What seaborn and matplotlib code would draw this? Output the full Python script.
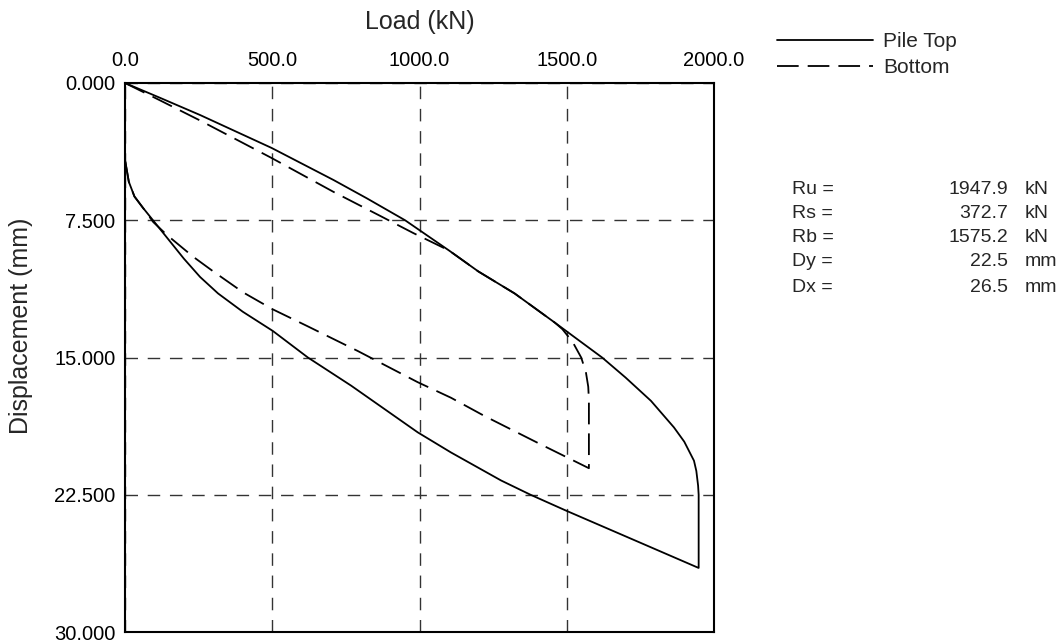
import matplotlib
matplotlib.use('Agg')
import matplotlib.pyplot as plt
import pandas as pd
import seaborn as sns

# pile top: loading, hold at Ru, then unloading
top_load = [0, 119, 255, 498, 708, 821, 951, 1100, 1200, 1323, 1460, 1540, 1620,
            1700, 1786, 1864, 1899, 1932, 1940, 1946, 1947.9, 1947.9, 1764, 1498, 1377, 1277,
            1107, 994, 768, 621, 502, 400, 316, 255, 200, 150, 100, 60, 32, 13, 0]
top_disp = [0, 0.81, 1.75, 3.55, 5.3, 6.3, 7.5, 9.15, 10.3, 11.5, 13.1, 14.05, 15.0,
            16.1, 17.37, 18.82, 19.6, 20.64, 21.2, 22.0, 22.5, 26.5, 25.22, 23.37, 22.5, 21.72,
            20.19, 19.09, 16.54, 15.0, 13.55, 12.5, 11.5, 10.6, 9.6, 8.6, 7.6, 6.8, 6.2, 5.4, 4.2]

# pile bottom
bot_load = [0, 119, 255, 498, 708, 865, 979, 1100, 1200, 1323, 1460, 1485, 1520, 1549,
            1565, 1573, 1575.2, 1575.2, 1412, 1221, 1107, 994, 791, 621, 502, 402, 300,
            232, 142, 96, 60, 32, 13, 0]
bot_disp = [0, 0.95, 2.05, 4.1, 5.95, 7.25, 8.2, 9.15, 10.3, 11.5, 13.1, 13.45, 14.15, 15.0,
            15.8, 16.6, 17.3, 21.05, 19.75, 18.2, 17.2, 16.35, 14.65, 13.3, 12.37, 11.45, 10.3,
            9.5, 8.3, 7.6, 6.8, 6.2, 5.4, 4.2]

x_ticks = [0, 500, 1000, 1500, 2000]
y_ticks = [0, 7.5, 15, 22.5, 30]

result_names = ['Ru =', 'Rs =', 'Rb =', 'Dy =', 'Dx =']
result_values = ['1947.9', '372.7', '1575.2', '22.5', '26.5']
result_units = ['kN', 'kN', 'kN', 'mm', 'mm']

sns.set_style('white')
plt.rcParams['font.family'] = ['Liberation Sans', 'DejaVu Sans']

W, H = 1063, 644
fig = plt.figure(figsize=(W / 100, H / 100), dpi=100)
ax = fig.add_axes([125 / W, 12 / H, 589 / W, 549 / H])

top = pd.DataFrame({'Load': top_load, 'Disp': top_disp})
bot = pd.DataFrame({'Load': bot_load, 'Disp': bot_disp})

sns.lineplot(data=top, x='Load', y='Disp', sort=False, estimator=None, ax=ax,
             color='black', linewidth=1.3, label='Pile Top')
sns.lineplot(data=bot, x='Load', y='Disp', sort=False, estimator=None, ax=ax,
             color='black', linewidth=1.3, linestyle=(0, (12, 5)), label='Bottom')

ax.set_xlim(0, 2000)
ax.set_ylim(30, 0)
ax.set_xticks(x_ticks)
ax.set_yticks(y_ticks)
ax.set_xticklabels([f'{v:.1f}' for v in x_ticks])
ax.set_yticklabels([f'{v:.3f}' for v in y_ticks])
ax.xaxis.tick_top()
ax.xaxis.set_label_position('top')
ax.tick_params(axis='both', length=0, labelsize=14.5, colors='black')
ax.tick_params(axis='x', pad=9)
ax.tick_params(axis='y', pad=7)

ax.grid(True, color='0.2', linestyle=(0, (9, 7)), linewidth=1.0)
for spine in ax.spines.values():
    spine.set_color('black')
    spine.set_linewidth(1.5)

ax.set_xlabel('Load (kN)', fontsize=18, labelpad=16)
ax.set_ylabel('Displacement (mm)', fontsize=18)
ax.yaxis.set_label_coords(-0.156, 0.557)

handles, labels = ax.get_legend_handles_labels()
ax.get_legend().remove()
fig.legend(handles, labels, loc='upper left', bbox_to_anchor=(777 / W, 1 - 32 / H),
           frameon=False, fontsize=15, handlelength=4.6, handletextpad=0.5,
           borderpad=0, borderaxespad=0, labelspacing=0.35)

row_y = [189, 213, 237, 262, 287]
for name, value, unit, y in zip(result_names, result_values, result_units, row_y):
    fig.text(792 / W, 1 - y / H, name, fontsize=14, va='center', ha='left')
    fig.text(1008 / W, 1 - y / H, value, fontsize=14, va='center', ha='right')
    fig.text(1025 / W, 1 - y / H, unit, fontsize=14, va='center', ha='left')

fig.savefig('out.png', dpi=100)
